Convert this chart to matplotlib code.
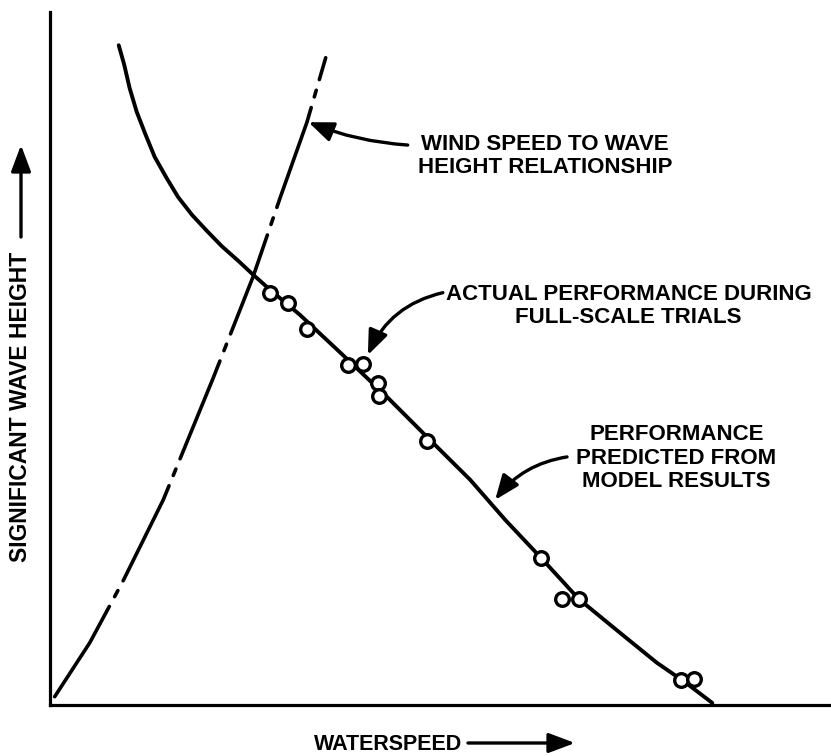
import matplotlib
matplotlib.use("Agg")
import matplotlib.pyplot as plt

plt.rcParams['font.family'] = ['Liberation Sans', 'DejaVu Sans']
plt.rcParams['lines.scale_dashes'] = False

# Performance predicted from model results (waterspeed, significant wave height; arbitrary units)
model_speed = [0.88, 0.95, 1.02, 1.11, 1.22, 1.34, 1.49, 1.64, 1.82, 2.01, 2.20, 2.41, 2.60,
               2.82, 3.20, 3.75, 4.32, 4.87, 5.38, 5.83, 6.29, 6.77, 7.30, 7.77, 8.13, 8.48]
model_height = [9.52, 9.24, 8.90, 8.56, 8.24, 7.91, 7.61, 7.33, 7.07, 6.84, 6.62, 6.41, 6.21,
                5.99, 5.63, 5.05, 4.44, 3.82, 3.25, 2.67, 2.12, 1.53, 1.04, 0.61, 0.33, 0.03]

# Wind speed to wave height relationship
wind_speed = [0.06, 0.51, 0.94, 1.45, 2.09, 2.60, 2.95, 3.29, 3.53]
wind_height = [0.12, 0.90, 1.80, 2.96, 4.72, 6.18, 7.33, 8.41, 9.34]

# Actual performance during full-scale trials
trial_speed = [2.82, 3.05, 3.29, 3.82, 4.01, 4.20, 4.21, 4.83, 6.29, 6.56, 6.77, 8.08, 8.25]
trial_height = [5.95, 5.80, 5.43, 4.91, 4.92, 4.65, 4.46, 3.81, 2.12, 1.53, 1.53, 0.36, 0.38]

W, H = 831, 756
fig = plt.figure(figsize=(W / 100, H / 100), dpi=100)
ax = fig.add_axes([50 / W, 51 / H, 781 / W, 693 / H])
ax.set_xlim(0, 10)
ax.set_ylim(0, 10)
for s in ['top', 'right']:
    ax.spines[s].set_visible(False)
for s in ['left', 'bottom']:
    ax.spines[s].set_linewidth(2.3)
    ax.spines[s].set_color('black')
ax.set_xticks([])
ax.set_yticks([])

ax.plot(wind_speed, wind_height, color='black', lw=2.6,
        linestyle=(0, (76, 8, 5, 8)), solid_capstyle='round', dash_capstyle='round')
ax.plot(model_speed, model_height, color='black', lw=2.8, solid_capstyle='round',
        solid_joinstyle='round', zorder=3)
ax.plot(trial_speed, trial_height, linestyle='none', marker='o', markersize=9.8,
        markerfacecolor='white', markeredgecolor='black', markeredgewidth=2.4, zorder=4)

fkw = dict(fontsize=16, fontweight='bold', color='black', ha='center', va='center',
           linespacing=1.15)
ax.text(6.34, 7.92, "WIND SPEED TO WAVE\nHEIGHT RELATIONSHIP", **fkw)
ax.text(7.41, 5.76, "ACTUAL PERFORMANCE DURING\nFULL-SCALE TRIALS", **fkw)
ax.text(8.02, 3.56, "PERFORMANCE\nPREDICTED FROM\nMODEL RESULTS", **fkw)

def arrow(start, tip, rad):
    ax.annotate('', xy=tip, xytext=start,
                arrowprops=dict(arrowstyle='-|>,head_length=0.75,head_width=0.3',
                                connectionstyle=f'arc3,rad={rad}', color='black',
                                lw=2.4, mutation_scale=20, shrinkA=0, shrinkB=0),
                zorder=5)

arrow((4.58, 8.08), (3.31, 8.41), -0.08)
arrow((5.03, 5.95), (4.07, 5.05), 0.25)
arrow((6.62, 3.58), (5.70, 2.96), 0.2)

fig.text(21 / W, 1 - 407 / H, "SIGNIFICANT WAVE HEIGHT", rotation=90, fontsize=16.5,
         fontweight='bold', ha='center', va='center')
fig.text(388 / W, 1 - 744 / H, "WATERSPEED", fontsize=15.5, fontweight='bold',
         ha='center', va='center')
akw = dict(arrowstyle='-|>,head_length=0.8,head_width=0.3', color='black', lw=2.4,
           mutation_scale=20, shrinkA=0, shrinkB=0)
fig.add_artist(matplotlib.patches.FancyArrowPatch((21 / W, 1 - 237 / H), (21 / W, 1 - 145 / H),
                                                   transform=fig.transFigure, **akw))
fig.add_artist(matplotlib.patches.FancyArrowPatch((468 / W, 1 - 743 / H), (575 / W, 1 - 743 / H),
                                                   transform=fig.transFigure, **akw))

fig.savefig('out.png', dpi=100)
